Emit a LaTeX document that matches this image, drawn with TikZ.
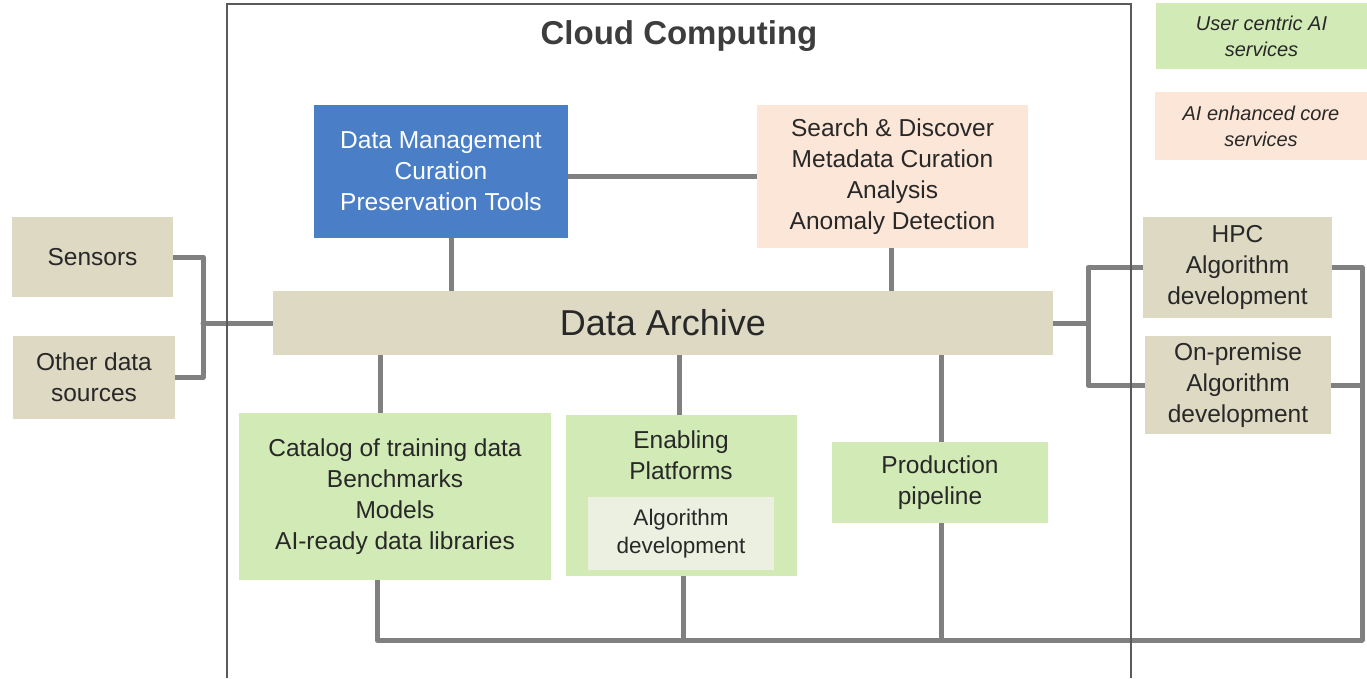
\documentclass[tikz,border=0pt]{standalone}
\usepackage{fontspec}
\setmainfont{Liberation Sans}
\pgfdeclarelayer{background}
\pgfsetlayers{background,main}
\begin{document}
\begin{tikzpicture}[x=1pt,y=-1pt,
  box/.style={inner sep=0pt,outer sep=0pt,draw=none,align=center,text=txtdark,
    font=\fontsize{24.5}{31}\selectfont},
  green/.style={box,fill=usergreen},
  peach/.style={box,fill=corepeach},
  beige/.style={box,fill=archbeige},
  legend/.style={box,font=\fontsize{20}{26}\selectfont\itshape},
  conn/.style={draw=connGray,line width=5pt,line join=round,line cap=round},
  frame/.style={draw=frameGray,line width=1.3pt}]
\definecolor{usergreen}{RGB}{209,234,182}
\definecolor{corepeach}{RGB}{252,230,215}
\definecolor{archbeige}{RGB}{221,217,195}
\definecolor{innerpale}{RGB}{235,240,224}
\definecolor{dmblue}{RGB}{74,127,200}
\definecolor{connGray}{RGB}{128,128,128}
\definecolor{frameGray}{RGB}{90,90,90}
\definecolor{txtdark}{RGB}{40,40,40}

\useasboundingbox (0,0) rectangle (1367,678);

% cloud computing enclosure (open at the bottom)
\draw[frame] (227,678) -- (227,4) -- (1131,4) -- (1131,678);
\node[box,font=\fontsize{33}{40}\selectfont\bfseries,text=txtdark!90] (title) at (679,36) {Cloud Computing};

% legend
\node[legend,fill=usergreen,minimum width=211,minimum height=66] (lgUser) at (1261.5,36) {User centric AI\\services};
\node[legend,fill=corepeach,minimum width=212,minimum height=68] (lgCore) at (1261,126) {AI enhanced core\\services};

% core services
\node[box,fill=dmblue,text=white,minimum width=254,minimum height=133] (dm) at (441,171.5)
  {Data Management\\Curation\\Preservation Tools};
\node[peach,minimum width=271,minimum height=143] (search) at (892.5,176.5)
  {Search \& Discover\\Metadata Curation\\Analysis\\Anomaly Detection};

% archive
\node[beige,minimum width=780,minimum height=64,font=\fontsize{36}{40}\selectfont] (arch) at (663,323) {Data Archive};

% data sources
\node[beige,minimum width=161,minimum height=80] (sens) at (92.5,257) {Sensors};
\node[beige,minimum width=162,minimum height=83] (oth) at (94,377.5) {Other data\\sources};

% external algorithm development
\node[beige,minimum width=189,minimum height=101] (hpc) at (1237.5,267.5) {HPC\\Algorithm\\development};
\node[beige,minimum width=186,minimum height=98] (onp) at (1238,385) {On-premise\\Algorithm\\development};

% user centric services
\node[green,minimum width=312,minimum height=167] (cat) at (395,496.5)
  {Catalog of training data\\Benchmarks\\Models\\AI-ready data libraries};
\node[green,minimum width=231,minimum height=161] (enab) at (681.5,495.5) {};
\node[box] (enabTxt) at (681,455) {Enabling\\Platforms};
\node[box,fill=innerpale,minimum width=186,minimum height=73,font=\fontsize{22.5}{28}\selectfont] (algo) at (681,533.5)
  {Algorithm\\development};
\node[green,minimum width=216,minimum height=81] (prod) at (940,482.5) {Production\\pipeline};

% junction points
\coordinate (lJoin) at (203,323);
\coordinate (rJoin) at (1088,323);
\coordinate (rBot) at (1362,640);
\coordinate (xDm) at (451,0);
\coordinate (xSearch) at (891,0);
\coordinate (xCatTop) at (380,0);
\coordinate (xCatBot) at (377,0);
\coordinate (xEnabTop) at (679,0);
\coordinate (xEnabBot) at (683,0);
\coordinate (xProd) at (941,0);

% connectors, kept behind the boxes
\begin{pgfonlayer}{background}
\draw[conn] (dm.east |- search.west) -- (search.west);
\draw[conn] (dm.south -| xDm) -- (arch.north -| xDm);
\draw[conn] (search.south -| xSearch) -- (arch.north -| xSearch);

\draw[conn] (sens.east) -| (lJoin) |- (oth.east);
\draw[conn] (lJoin) -- (arch.west);

\draw[conn] (arch.east) -- (rJoin);
\draw[conn] (hpc.west) -| (rJoin) |- (onp.west);

\draw[conn] (arch.south -| xCatTop) -- (cat.north -| xCatTop);
\draw[conn] (arch.south -| xEnabTop) -- (enab.north -| xEnabTop);
\draw[conn] (arch.south -| xProd) -- (prod.north -| xProd);

\draw[conn] (cat.south -| xCatBot) |- (rBot);
\draw[conn] (enab.south -| xEnabBot) -- (rBot -| xEnabBot);
\draw[conn] (prod.south -| xProd) -- (rBot -| xProd);
\draw[conn] (hpc.east) -| (rBot);
\draw[conn] (onp.east) -- (rBot |- onp.east);
\end{pgfonlayer}
\end{tikzpicture}
\end{document}
